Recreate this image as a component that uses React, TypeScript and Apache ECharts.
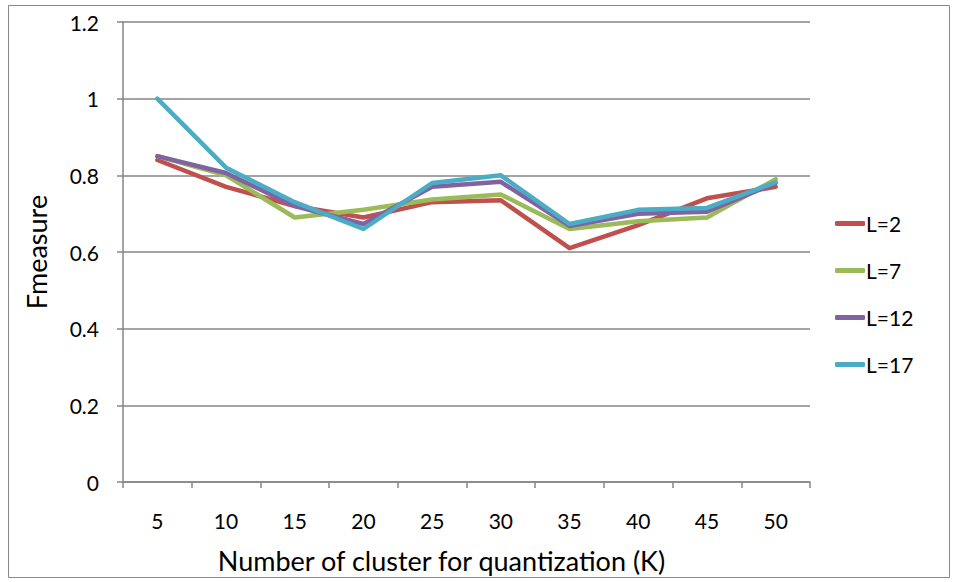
import React, { useEffect, useRef } from "react";
import * as echarts from "echarts";

const categories = ["5", "10", "15", "20", "25", "30", "35", "40", "45", "50"];
const seriesNames = ["L=2", "L=7", "L=12", "L=17"];
const l2 = [0.84, 0.77, 0.72, 0.69, 0.73, 0.735, 0.61, 0.67, 0.74, 0.77];
const l7 = [0.85, 0.8, 0.69, 0.71, 0.737, 0.75, 0.66, 0.68, 0.69, 0.79];
const l12 = [0.85, 0.806, 0.72, 0.673, 0.77, 0.783, 0.668, 0.7, 0.705, 0.78];
const l17 = [1.0, 0.82, 0.73, 0.66, 0.78, 0.8, 0.673, 0.71, 0.715, 0.782];
const colors = ["#C0504D", "#9BBB59", "#8064A2", "#4BACC6"];

const FONT = "Lato, 'Liberation Sans', sans-serif";

export default function App() {
  const ref = useRef<HTMLDivElement>(null);
  useEffect(() => {
    if (!ref.current) return;
    const chart = echarts.init(ref.current, null, { renderer: "svg" });
    const data = [l2, l7, l12, l17];
    chart.setOption({
      animation: false,
      backgroundColor: "#ffffff",
      graphic: [
        {
          type: "rect",
          shape: { x: 8.5, y: 5.5, width: 941, height: 572 },
          style: { fill: "none", stroke: "#8a8a8a", lineWidth: 1 },
          silent: true,
        },
      ],
      grid: { left: 123, right: 148, top: 22, bottom: 100, containLabel: false },
      legend: {
        orient: "vertical",
        left: 830,
        top: 208,
        itemGap: 26,
        itemWidth: 30,
        itemHeight: 5,
        icon: "roundRect",
        data: seriesNames,
        textStyle: { fontFamily: FONT, fontSize: 21, color: "#000", padding: [0, 0, 0, -4] },
      },
      xAxis: {
        type: "category",
        data: categories,
        boundaryGap: true,
        name: "Number of cluster for quantization (K)",
        nameLocation: "middle",
        nameGap: 65,
        nameTextStyle: { fontFamily: FONT, fontSize: 27, color: "#000", padding: [0, 50, 0, 0] },
        axisLine: { lineStyle: { color: "#868686", width: 1.5 } },
        axisTick: { show: true, inside: false, length: 6, lineStyle: { color: "#868686", width: 1.5 } },
        axisLabel: { fontFamily: FONT, fontSize: 21, color: "#000", margin: 28 },
        splitLine: { show: false },
      },
      yAxis: {
        type: "value",
        min: 0,
        max: 1.2,
        interval: 0.2,
        name: "Fmeasure",
        nameLocation: "middle",
        nameGap: 73,
        nameTextStyle: { fontFamily: FONT, fontSize: 27, color: "#000" },
        axisLine: { show: true, lineStyle: { color: "#868686", width: 1.5 } },
        axisTick: { show: true, inside: false, length: 6, lineStyle: { color: "#868686", width: 1.5 } },
        axisLabel: {
          fontFamily: FONT,
          fontSize: 21,
          color: "#000",
          margin: 24,
          formatter: (v: number) => String(Math.round(v * 10) / 10),
        },
        splitLine: { show: true, lineStyle: { color: "#868686", width: 1.5 } },
      },
      series: seriesNames.map((n, i) => ({
        name: n,
        type: "line",
        data: data[i],
        symbol: "none",
        color: colors[i],
        lineStyle: { width: 4.5, color: colors[i], cap: "round", join: "round" },
      })),
    });
    return () => chart.dispose();
  }, []);
  return (
    <div style={{ position: "fixed", left: 0, top: 0, width: 958, height: 582, background: "#fff" }}>
      <div ref={ref} style={{ width: 958, height: 582 }} />
    </div>
  );
}
